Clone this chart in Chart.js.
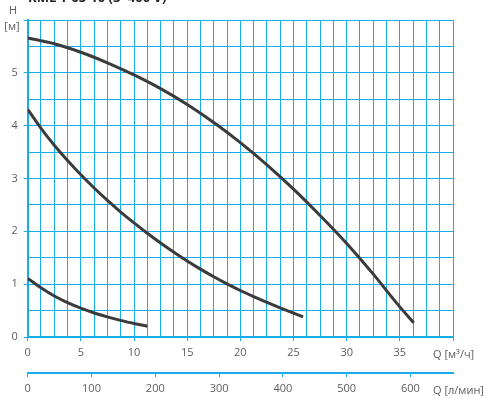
<!DOCTYPE html>
<html>
<head>
<meta charset="utf-8">
<script src="https://cdn.jsdelivr.net/npm/chart.js@4"></script>
<style>
html,body{margin:0;padding:0;background:#fff;}
canvas{display:block;}
</style>
</head>
<body>
<canvas id="c" width="485" height="399"></canvas>
<script>
// Flow Q [m³/h] and head H [m] for the three curves
const curve1Q = [0, 2.5, 5, 7.5, 10, 12.5, 15, 17.5, 20, 22.5, 25, 27.5, 30, 32.5, 35, 36.3];
const curve1H = [5.66, 5.55, 5.39, 5.19, 4.96, 4.70, 4.40, 4.06, 3.68, 3.26, 2.80, 2.30, 1.77, 1.19, 0.57, 0.27];

const curve2Q = [0, 1.25, 2.5, 3.75, 5, 6.25, 7.5, 8.75, 10, 11.25, 12.5, 13.75, 15, 16.25, 17.5, 18.75, 20, 21.25, 22.5, 23.75, 25, 25.9];
const curve2H = [4.31, 3.95, 3.63, 3.34, 3.07, 2.82, 2.585, 2.365, 2.16, 1.965, 1.78, 1.605, 1.44, 1.285, 1.14, 1.005, 0.88, 0.765, 0.655, 0.55, 0.45, 0.38];

const curve3Q = [0, 1.25, 2.5, 3.75, 5, 6.25, 7.5, 8.75, 10, 11.25];
const curve3H = [1.11, 0.93, 0.775, 0.65, 0.545, 0.455, 0.38, 0.315, 0.255, 0.205];

// Axis definitions
const qMax = 40;            // m³/h
const qLabelStep = 5;
const qGridStep = 1.25;
const hMax = 6;             // m
const hGridStep = 0.5;
const lpmPerM3h = 1000 / 60;
const lpmStep = 100;

const titleText = 'KML 1-65-10 (3~400 V)';
const hTitle1 = 'H';
const hTitle2 = '[м]';
const qTitle1 = 'Q [м³/ч]';
const qTitle2 = 'Q [л/мин]';

const BLUE = '#16aeea';
const CURVE = '#3b3b3d';
const TEXT = '#5c5c5c';
const FONT = '"Open Sans", sans-serif';

const pts = (qs, hs) => qs.map((q, i) => ({x: q, y: hs[i]}));

const curveStyle = {
  borderColor: CURVE,
  borderWidth: 3,
  pointRadius: 0,
  fill: false,
  showLine: true,
  cubicInterpolationMode: 'monotone',
  borderCapStyle: 'butt'
};

const textPlugin = {
  id: 'texts',
  afterDraw(chart) {
    const ctx = chart.ctx;
    ctx.save();
    ctx.fillStyle = TEXT;
    ctx.font = '11px ' + FONT;
    ctx.textAlign = 'center';
    ctx.textBaseline = 'middle';
    ctx.fillText(hTitle1, 13, 11);
    ctx.fillText(hTitle2, 12, 27);
    ctx.textAlign = 'left';
    ctx.fillText(qTitle1, 433, 355);
    ctx.fillText(qTitle2, 433, 391);
    ctx.fillStyle = '#222';
    ctx.font = 'bold 13px ' + FONT;
    ctx.textBaseline = 'alphabetic';
    ctx.fillText(titleText, 28, 2);
    ctx.restore();
  }
};

const bgPlugin = {
  id: 'bg',
  beforeDraw(chart) {
    const ctx = chart.ctx;
    ctx.save();
    ctx.fillStyle = '#fff';
    ctx.fillRect(0, 0, chart.width, chart.height);
    ctx.restore();
  }
};

new Chart(document.getElementById('c'), {
  type: 'scatter',
  data: {
    datasets: [
      Object.assign({data: pts(curve1Q, curve1H)}, curveStyle),
      Object.assign({data: pts(curve2Q, curve2H)}, curveStyle),
      Object.assign({data: pts(curve3Q, curve3H)}, curveStyle)
    ]
  },
  options: {
    responsive: false,
    animation: false,
    devicePixelRatio: 1,
    layout: {padding: {top: 20, right: 32, bottom: 0, left: 0}},
    plugins: {legend: {display: false}, tooltip: {enabled: false}},
    scales: {
      x: {
        type: 'linear',
        position: 'bottom',
        weight: 0,
        min: 0, max: qMax,
        afterFit(s) { s.height = 36; },
        border: {color: BLUE, width: 2},
        grid: {
          color: BLUE, lineWidth: 1, tickLength: 4,
          tickColor: c => (c.tick && Math.abs(c.tick.value % qLabelStep) < 1e-6) ? BLUE : 'rgba(0,0,0,0)'
        },
        ticks: {
          stepSize: qGridStep, autoSkip: false, maxRotation: 0, padding: 5,
          color: TEXT, font: {family: FONT, size: 11},
          callback: v => (Math.abs(v % qLabelStep) < 1e-6 && v < qMax) ? String(v) : ''
        }
      },
      x2: {
        type: 'linear',
        position: 'bottom',
        weight: 1,
        min: 0, max: qMax * lpmPerM3h,
        afterFit(s) { s.height = 26; },
        border: {color: BLUE, width: 2},
        grid: {drawOnChartArea: false, color: BLUE, lineWidth: 1, tickLength: 4},
        ticks: {
          stepSize: lpmStep, includeBounds: false, autoSkip: false, maxRotation: 0, padding: 5,
          color: TEXT, font: {family: FONT, size: 11},
          callback: v => (Math.abs(v % lpmStep) < 1e-6) ? String(v) : ''
        }
      },
      y: {
        type: 'linear',
        position: 'left',
        min: 0, max: hMax,
        afterFit(s) { s.width = 27.7; },
        border: {color: BLUE, width: 2},
        grid: {
          color: BLUE, lineWidth: 1, tickLength: 4,
          tickColor: c => (c.tick && Math.abs(c.tick.value % 1) < 1e-6) ? BLUE : 'rgba(0,0,0,0)'
        },
        ticks: {
          stepSize: hGridStep, autoSkip: false, padding: 6,
          color: TEXT, font: {family: FONT, size: 11},
          callback: v => (Math.abs(v % 1) < 1e-6 && v < hMax) ? String(v) : ''
        }
      }
    }
  },
  plugins: [bgPlugin, textPlugin]
});
</script>
</body>
</html>
